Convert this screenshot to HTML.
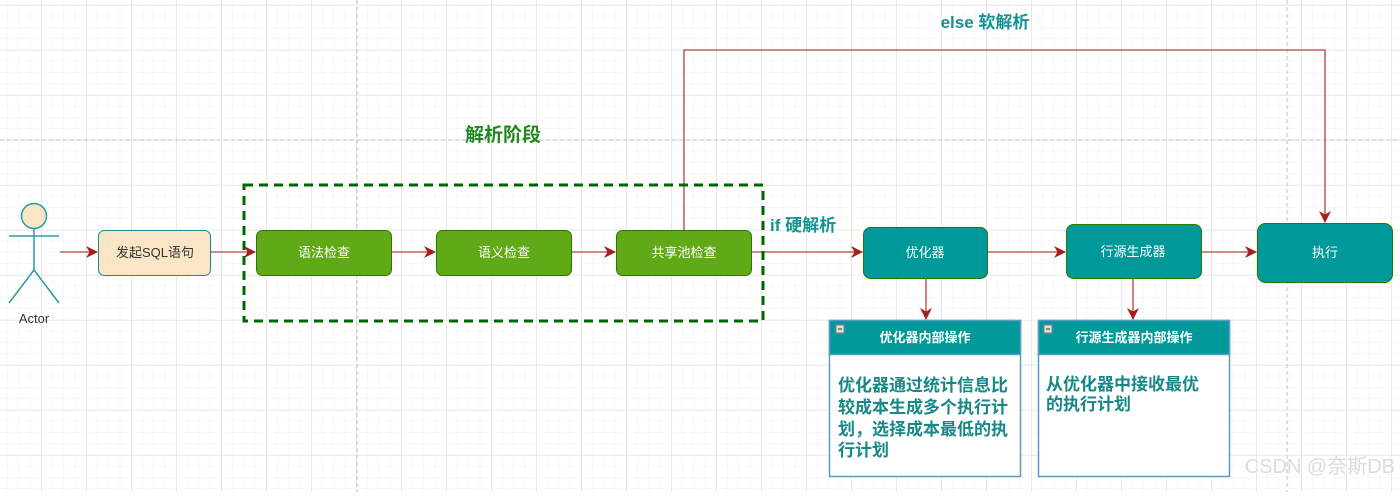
<!DOCTYPE html>
<html><head><meta charset="utf-8"><style>
body{margin:0;width:1400px;height:492px;overflow:hidden;background:#fff;}
text{font-family:"Liberation Sans","Noto Sans CJK SC",sans-serif;}
</style></head><body>
<svg width="1400" height="492" xmlns="http://www.w3.org/2000/svg">
<defs>
<pattern id="mn" x="-3.5" y="5" width="11.25" height="11.25" patternUnits="userSpaceOnUse"><path d="M11.25 0V11.25M0 11.25H11.25" stroke="#f1f1f1" stroke-width="1" fill="none"/></pattern>
<pattern id="mj" x="-3.5" y="5" width="45" height="45" patternUnits="userSpaceOnUse"><path d="M0 0V45M0 0H45" stroke="#dedede" stroke-width="1" fill="none"/></pattern>
<marker id="ar" markerWidth="12" markerHeight="12" refX="11" refY="6" orient="auto" markerUnits="userSpaceOnUse"><path d="M0 0L12 6L0 12L3.5 6Z" fill="#a51f1f"/></marker>
</defs>
<rect width="1400" height="492" fill="url(#mn)"/>
<rect width="1400" height="492" fill="url(#mj)"/>
<line x1="357" y1="0" x2="357" y2="492" stroke="#c0c0c0" stroke-dasharray="4,3"/>
<line x1="1287" y1="0" x2="1287" y2="492" stroke="#c0c0c0" stroke-dasharray="4,3"/>
<line x1="0" y1="140" x2="1400" y2="140" stroke="#c0c0c0" stroke-dasharray="4,3"/>

<g stroke="#2a9d9d" stroke-width="1.5" fill="none">
<circle cx="34" cy="216" r="12.5" fill="#fae5c7"/>
<line x1="34" y1="229" x2="34" y2="270"/>
<line x1="9" y1="236" x2="59" y2="236"/>
<line x1="34" y1="270" x2="9" y2="303"/>
<line x1="34" y1="270" x2="59" y2="303"/>
</g>
<text x="34" y="323" font-size="13" text-anchor="middle" fill="#333">Actor</text>

<g stroke="#b54040" stroke-width="1.3" fill="none" marker-end="url(#ar)">
<line x1="60" y1="252" x2="97" y2="252"/>
<line x1="211" y1="252" x2="255" y2="252"/>
<line x1="391" y1="252" x2="435" y2="252"/>
<line x1="571" y1="252" x2="615" y2="252"/>
<line x1="751" y1="252" x2="862" y2="252"/>
<line x1="987" y1="252" x2="1065" y2="252"/>
<line x1="1201" y1="252" x2="1256" y2="252"/>
<line x1="926" y1="278" x2="926" y2="319"/>
<line x1="1133" y1="278" x2="1133" y2="319"/>
<polyline points="684,230 684,50 1325,50 1325,222"/>
</g>

<rect x="98.5" y="230.5" width="112" height="45" rx="6" fill="#fae5c7" stroke="#1e8a8a"/>
<text x="155" y="257" font-size="13" text-anchor="middle" fill="#333">发起SQL语句</text>

<rect x="244" y="185" width="519" height="136" fill="none" stroke="#006600" stroke-width="3" stroke-dasharray="9,6"/>

<g fill="#60a917" stroke="#2d7600">
<rect x="256.5" y="230.5" width="135" height="45" rx="6"/>
<rect x="436.5" y="230.5" width="135" height="45" rx="6"/>
<rect x="616.5" y="230.5" width="135" height="45" rx="6"/>
</g>
<g font-size="13" fill="#fff" text-anchor="middle">
<text x="324" y="257">语法检查</text>
<text x="504" y="257">语义检查</text>
<text x="684" y="257">共享池检查</text>
</g>

<g fill="#009999" stroke="#2d7600">
<rect x="863.5" y="227.5" width="124" height="51" rx="7"/>
<rect x="1066.5" y="224.5" width="135" height="54" rx="7"/>
<rect x="1257.5" y="223.5" width="135" height="59" rx="8"/>
</g>
<g font-size="13" fill="#fff" text-anchor="middle">
<text x="925" y="257">优化器</text>
<text x="1133" y="256">行源生成器</text>
<text x="1325" y="257">执行</text>
</g>

<text x="985" y="28" font-size="17" font-weight="bold" fill="#129393" text-anchor="middle">else 软解析</text>
<text x="503" y="141" font-size="19" font-weight="bold" fill="#1e8a1e" text-anchor="middle">解析阶段</text>
<text x="770" y="231" font-size="17" font-weight="bold" fill="#129393">if 硬解析</text>

<rect x="829.5" y="320.5" width="191" height="156" fill="#fff" stroke="#5b9bc7" stroke-width="1.5"/>
<rect x="829.5" y="320.5" width="191" height="34" fill="#009999" stroke="#5b9bc7" stroke-width="1.5"/>
<rect x="836" y="325" width="8" height="8" fill="#ddd" stroke="#888"/><line x1="838" y1="329" x2="842" y2="329" stroke="#333"/>
<text x="925" y="342" font-size="13" font-weight="bold" fill="#fff" text-anchor="middle">优化器内部操作</text>
<g font-size="17" font-weight="bold" fill="#178888">
<text x="838" y="391">优化器通过统计信息比</text>
<text x="838" y="413">较成本生成多个执行计</text>
<text x="838" y="435">划，选择成本最低的执</text>
<text x="838" y="456">行计划</text>
</g>
<rect x="1038.5" y="320.5" width="191" height="156" fill="#fff" stroke="#5b9bc7" stroke-width="1.5"/>
<rect x="1038.5" y="320.5" width="191" height="34" fill="#009999" stroke="#5b9bc7" stroke-width="1.5"/>
<rect x="1044" y="325" width="8" height="8" fill="#ddd" stroke="#888"/><line x1="1046" y1="329" x2="1050" y2="329" stroke="#333"/>
<text x="1134" y="342" font-size="13" font-weight="bold" fill="#fff" text-anchor="middle">行源生成器内部操作</text>
<g font-size="17" font-weight="bold" fill="#178888">
<text x="1046" y="390">从优化器中接收最优</text>
<text x="1046" y="410">的执行计划</text>
</g>
<text x="1395" y="473" font-size="20" fill="#dcdcdc" text-anchor="end">CSDN @奈斯DB</text>
</svg>
</body></html>
